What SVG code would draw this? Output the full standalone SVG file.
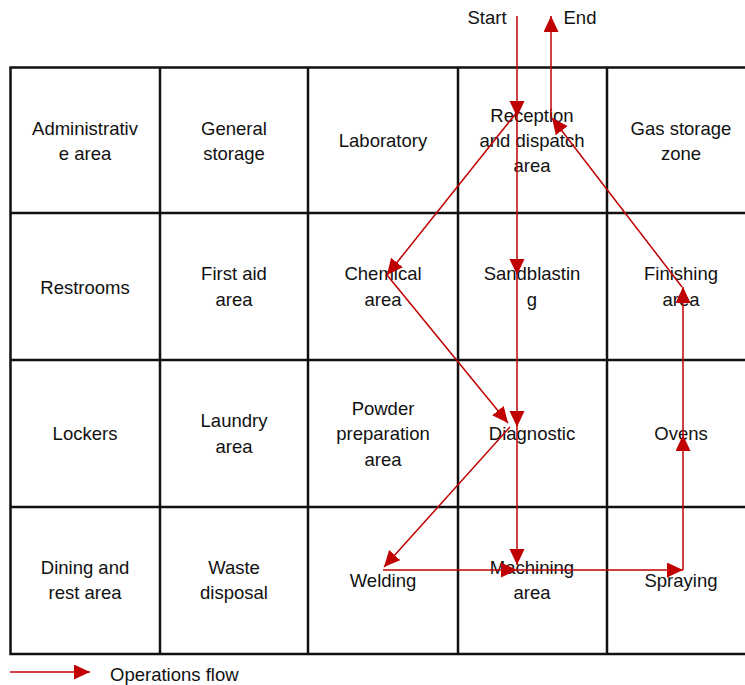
<svg xmlns="http://www.w3.org/2000/svg" width="745" height="685" viewBox="0 0 745 685">
<style>
  text { font-family: "Liberation Sans", Arial, sans-serif; font-size: 18.5px; fill: #111; text-anchor: middle; }
  .grid { stroke: #111; stroke-width: 2.5; fill: none; }
  .flow { stroke: #c00000; stroke-width: 1.5; fill: none; marker-end: url(#ah); }
  .lg { text-anchor: start; }
</style>
<defs>
  <marker id="ah" markerUnits="userSpaceOnUse" markerWidth="17" markerHeight="16" refX="16" refY="7.5" orient="auto">
    <path d="M0,0 L16,7.5 L0,15 Z" fill="#c00000"/>
  </marker>
</defs>
<rect width="745" height="685" fill="#fff"/>
<g id="grid">
  <rect class="grid" x="10.5" y="67.5" width="760" height="586.5"/>
  <line class="grid" x1="160" y1="67" x2="160" y2="654"/>
  <line class="grid" x1="308" y1="67" x2="308" y2="654"/>
  <line class="grid" x1="458" y1="67" x2="458" y2="654"/>
  <line class="grid" x1="607" y1="67" x2="607" y2="654"/>
  <line class="grid" x1="10" y1="213" x2="760" y2="213"/>
  <line class="grid" x1="10" y1="360" x2="760" y2="360"/>
  <line class="grid" x1="10" y1="507" x2="760" y2="507"/>
</g>
<g id="n-admin"><text x="85" y="134.5">Administrativ</text><text x="85" y="159.5">e area</text></g>
<g id="n-general"><text x="234" y="134.5">General</text><text x="234" y="159.5">storage</text></g>
<g id="n-lab"><text x="383" y="146.5">Laboratory</text></g>
<g id="n-reception"><text x="532" y="121.5">Reception</text><text x="532" y="146.5">and dispatch</text><text x="532" y="171.5">area</text></g>
<g id="n-gas"><text x="681" y="134.5">Gas storage</text><text x="681" y="159.5">zone</text></g>
<g id="n-restrooms"><text x="85" y="293.5">Restrooms</text></g>
<g id="n-firstaid"><text x="234" y="279.5">First aid</text><text x="234" y="305.5">area</text></g>
<g id="n-chemical"><text x="383" y="279.5">Chemical</text><text x="383" y="305.5">area</text></g>
<g id="n-sandblasting"><text x="532" y="279.5">Sandblastin</text><text x="532" y="305.5">g</text></g>
<g id="n-finishing"><text x="681" y="279.5">Finishing</text><text x="681" y="305.5">area</text></g>
<g id="n-lockers"><text x="85" y="439.5">Lockers</text></g>
<g id="n-laundry"><text x="234" y="426.5">Laundry</text><text x="234" y="452.5">area</text></g>
<g id="n-powder"><text x="383" y="414.5">Powder</text><text x="383" y="439.5">preparation</text><text x="383" y="465.5">area</text></g>
<g id="n-diagnostic"><text x="532" y="439.5">Diagnostic</text></g>
<g id="n-ovens"><text x="681" y="439.5">Ovens</text></g>
<g id="n-dining"><text x="85" y="573.5">Dining and</text><text x="85" y="598.5">rest area</text></g>
<g id="n-waste"><text x="234" y="573.5">Waste</text><text x="234" y="598.5">disposal</text></g>
<g id="n-welding"><text x="383" y="586.5">Welding</text></g>
<g id="n-machining"><text x="532" y="573.5">Machining</text><text x="532" y="598.5">area</text></g>
<g id="n-spraying"><text x="681" y="586.5">Spraying</text></g>
<g id="n-start"><text x="487" y="24">Start</text></g>
<g id="n-end"><text x="580" y="24">End</text></g>
<g id="connectors">
  <line class="flow" x1="517" y1="16" x2="517" y2="117"/>
  <line class="flow" x1="517" y1="117" x2="517" y2="275"/>
  <line class="flow" x1="517" y1="275" x2="517" y2="427"/>
  <line class="flow" x1="517" y1="427" x2="517" y2="565"/>
  <line class="flow" x1="517" y1="112" x2="387" y2="275"/>
  <line class="flow" x1="387" y1="275" x2="508" y2="423"/>
  <line class="flow" x1="510" y1="427" x2="384" y2="567"/>
  <line class="flow" x1="383" y1="570" x2="517" y2="570"/>
  <line class="flow" x1="517" y1="570" x2="683" y2="570"/>
  <line class="flow" x1="683" y1="570" x2="683" y2="435"/>
  <line class="flow" x1="683" y1="435" x2="683" y2="287"/>
  <line class="flow" x1="682" y1="287" x2="552" y2="118"/>
  <line class="flow" x1="551" y1="118" x2="551" y2="16"/>
</g>
<g id="legend">
  <line class="flow" x1="10" y1="672" x2="90" y2="672"/>
  <text class="lg" x="110" y="681">Operations flow</text>
</g>
</svg>
